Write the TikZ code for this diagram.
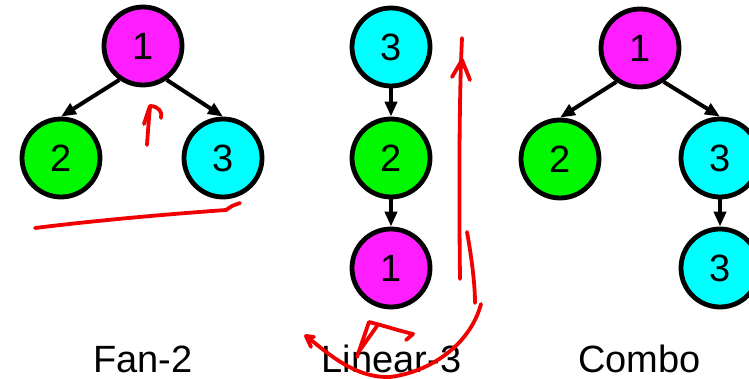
\documentclass[tikz,border=0pt]{standalone}
\usepackage{fontspec}
\setmainfont{Liberation Sans}
\usetikzlibrary{arrows.meta}
\definecolor{vmag}{HTML}{FF1EFF}
\definecolor{vgreen}{HTML}{00F800}
\definecolor{vcyan}{HTML}{00FFFF}
\definecolor{ink}{HTML}{F00000}
\tikzset{
  vtx/.style={circle, draw=black, line width=4.8pt, minimum size=78pt, inner sep=0pt,
              font=\fontsize{38}{40}\selectfont},
  mag/.style={vtx, fill=vmag},
  grn/.style={vtx, fill=vgreen},
  cyn/.style={vtx, fill=vcyan},
  edge/.style={line width=4pt, -{Triangle[length=15pt,width=12pt]}},
  caption/.style={font=\fontsize{38}{40}\selectfont, anchor=base},
  pen/.style={draw=ink, line width=3.8pt, line cap=round, line join=round}
}
\begin{document}
\begin{tikzpicture}[x=1pt,y=-1pt]
\useasboundingbox (0,0) rectangle (749,379);
\clip (0,0) rectangle (749,379);

% Fan-2
\node[mag] (fa1) at (143,46) {1};
\node[grn] (fa2) at (61,158) {2};
\node[cyn] (fa3) at (223,158) {3};
\draw[edge] (fa1.-125) -- (fa2.north);
\draw[edge] (fa1.-55) -- (fa3.north);
\node[caption] (capfan) at (143,372) {Fan-2};

% Linear-3
\node[cyn] (li3) at (391,47) {3};
\node[grn] (li2) at (391,158) {2};
\node[mag] (li1) at (391,268) {1};
\draw[edge] (li3) -- (li2);
\draw[edge] (li2) -- (li1);
\node[caption] (caplin) at (391.5,372) {Linear-3};

% Combo
\node[mag] (co1) at (640,48) {1};
\node[grn] (co2) at (560,159) {2};
\node[cyn] (co3) at (720,158) {3};
\node[cyn] (co4) at (720,268) {3};
\draw[edge] (co1.-125) -- (co2.north);
\draw[edge] (co1.-55) -- (co3.north);
\draw[edge] (co3) -- (co4);
\node[caption] (capcombo) at (639.5,372) {Combo};

% handwritten red pen strokes
\draw[pen] (35,228) .. controls (100,220) and (170,214) .. (226,210)
  -- (232,206) -- (240,203);
\draw[pen] (147,145) .. controls (148,130) and (149,118) .. (150,107);
\draw[pen] (144,124) -- (150,106) .. controls (158,106) and (163,112) .. (161,118);
\draw[pen] (460,279) .. controls (459,200) and (459,100) .. (462,38);
\draw[pen] (452,77) -- (462,60) -- (470,80);
\draw[pen] (467,232) .. controls (472,260) and (475,285) .. (475,303);
\draw[pen] (481,304) .. controls (470,345) and (430,372) .. (390,377)
  .. controls (355,378) and (330,355) .. (306,336);
\draw[pen] (306,336) -- (311,347);
\draw[pen] (306,336) -- (314,337);
\draw[pen] (357,357) -- (369,322) .. controls (385,326) and (400,331) .. (413,334) -- (406,340);
\draw[pen] (360,350) -- (377,326);
\end{tikzpicture}
\end{document}
